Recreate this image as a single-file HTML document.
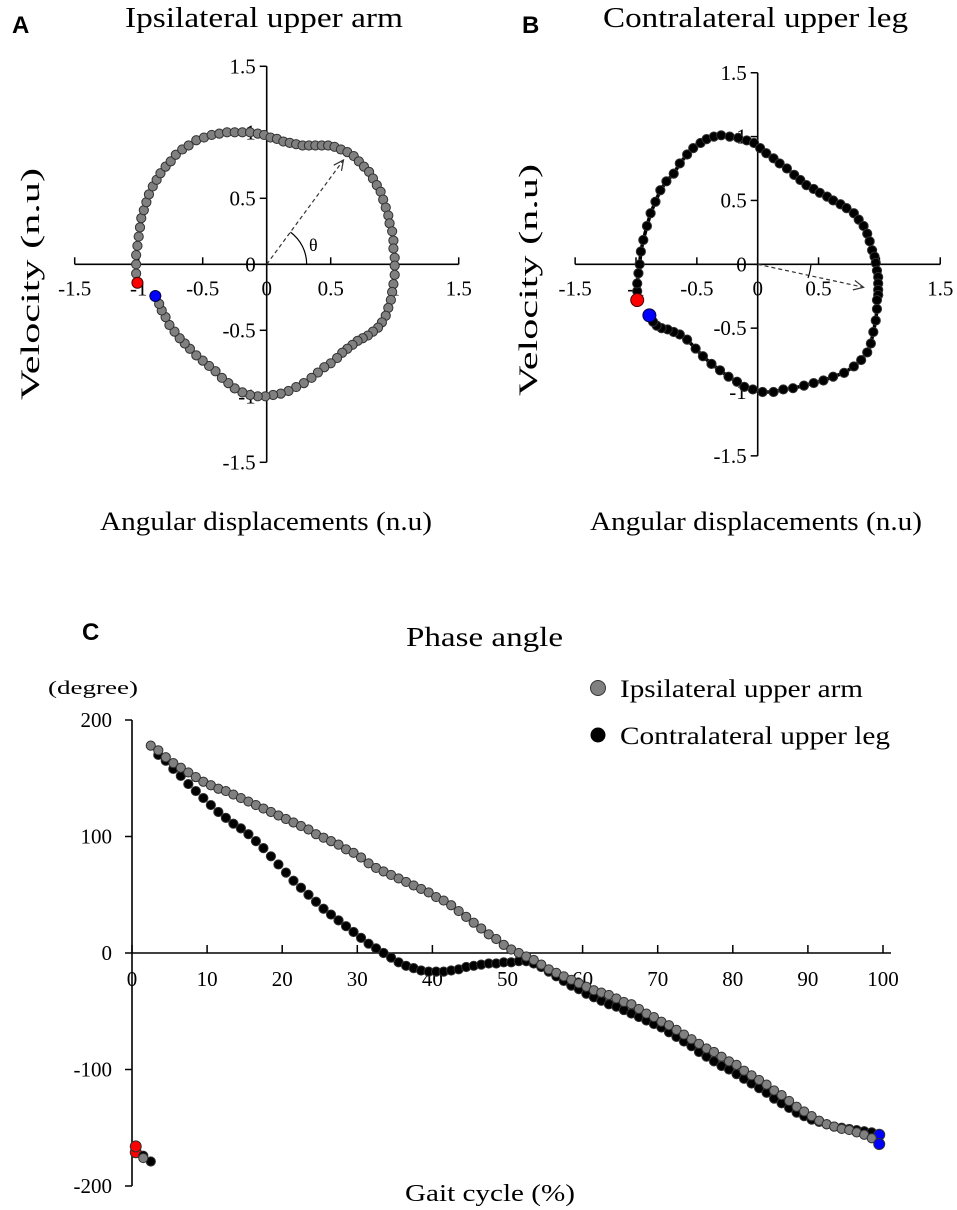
<!DOCTYPE html>
<html><head><meta charset="utf-8"><style>
body{margin:0;background:#fff}
svg{display:block}
text{font-family:"Liberation Serif",serif;fill:#000}
.lab{font-family:"Liberation Sans",sans-serif;font-weight:bold}
</style></head><body>
<svg id="fig" width="957" height="1210" viewBox="0 0 957 1210" xmlns="http://www.w3.org/2000/svg">
<text class="lab" x="12" y="33" font-size="24">A</text>
<text class="lab" x="522" y="33" font-size="24">B</text>
<text class="lab" x="82" y="640" font-size="24">C</text>
<text x="125" y="27" font-size="28" textLength="278" lengthAdjust="spacingAndGlyphs">Ipsilateral  upper arm</text>
<text x="603" y="27" font-size="28" textLength="305" lengthAdjust="spacingAndGlyphs">Contralateral  upper leg</text>
<text x="100" y="530" font-size="26" textLength="332" lengthAdjust="spacingAndGlyphs">Angular  displacements (n.u)</text>
<text x="590" y="530" font-size="26" textLength="332" lengthAdjust="spacingAndGlyphs">Angular  displacements (n.u)</text>
<text transform="translate(39,400) rotate(-90)" font-size="26" textLength="232" lengthAdjust="spacingAndGlyphs">Velocity (n.u)</text>
<text transform="translate(537,396) rotate(-90)" font-size="26" textLength="232" lengthAdjust="spacingAndGlyphs">Velocity (n.u)</text>
<text x="406" y="646" font-size="27" textLength="157" lengthAdjust="spacingAndGlyphs">Phase angle</text>
<text x="48" y="694" font-size="19" textLength="90" lengthAdjust="spacingAndGlyphs">(degree)</text>
<text x="405" y="1201" font-size="24" textLength="170" lengthAdjust="spacingAndGlyphs">Gait cycle (%)</text>
<g>
<circle cx="598" cy="688" r="7.5" fill="#808080" stroke="#333"/>
<text x="620" y="697" font-size="25" textLength="243" lengthAdjust="spacingAndGlyphs">Ipsilateral  upper arm</text>
<circle cx="598" cy="735" r="7.5" fill="#000"/>
<text x="620" y="744" font-size="25" textLength="270" lengthAdjust="spacingAndGlyphs">Contralateral  upper leg</text>
</g>
<g id="pa"></g>
<g id="pb"></g>
<g id="pc"></g>
</svg>
<script>
const aX=[-1.01,-1.02,-1.02,-1.02,-1.01,-1.0,-0.99,-0.98,-0.96,-0.94,-0.92,-0.89,-0.86,-0.83,-0.79,-0.75,-0.71,-0.66,-0.61,-0.55,-0.49,-0.43,-0.37,-0.31,-0.25,-0.19,-0.13,-0.07,-0.02,0.03,0.08,0.13,0.18,0.23,0.28,0.33,0.38,0.43,0.48,0.53,0.58,0.63,0.68,0.72,0.76,0.80,0.83,0.86,0.89,0.91,0.93,0.95,0.96,0.98,0.99,0.99,1.0,1.0,1.0,0.99,0.98,0.97,0.95,0.93,0.90,0.87,0.83,0.79,0.75,0.71,0.67,0.63,0.59,0.55,0.50,0.45,0.40,0.35,0.29,0.23,0.17,0.11,0.05,-0.01,-0.07,-0.13,-0.19,-0.25,-0.30,-0.35,-0.40,-0.45,-0.50,-0.55,-0.60,-0.64,-0.68,-0.72,-0.76,-0.79,-0.82,-0.84,-0.87];
const aY=[-0.14,-0.07,0.0,0.07,0.14,0.21,0.28,0.35,0.41,0.47,0.53,0.59,0.64,0.69,0.74,0.78,0.83,0.87,0.90,0.94,0.96,0.98,0.99,1.0,1.0,1.0,1.0,0.99,0.98,0.96,0.95,0.93,0.92,0.91,0.90,0.90,0.90,0.90,0.90,0.89,0.87,0.85,0.82,0.78,0.74,0.70,0.65,0.60,0.55,0.49,0.43,0.37,0.31,0.25,0.18,0.12,0.05,-0.01,-0.08,-0.15,-0.21,-0.27,-0.33,-0.39,-0.44,-0.48,-0.51,-0.54,-0.56,-0.58,-0.61,-0.64,-0.67,-0.71,-0.75,-0.78,-0.82,-0.86,-0.90,-0.93,-0.96,-0.98,-0.99,-1.0,-1.0,-0.99,-0.97,-0.94,-0.90,-0.86,-0.81,-0.77,-0.73,-0.69,-0.64,-0.60,-0.56,-0.51,-0.46,-0.40,-0.35,-0.30,-0.24];
const bX=[-0.99,-0.99,-0.99,-0.98,-0.97,-0.96,-0.94,-0.91,-0.88,-0.84,-0.80,-0.75,-0.69,-0.64,-0.58,-0.53,-0.47,-0.42,-0.36,-0.30,-0.23,-0.16,-0.09,-0.03,0.02,0.07,0.13,0.18,0.24,0.30,0.35,0.40,0.46,0.51,0.57,0.62,0.68,0.73,0.79,0.83,0.87,0.90,0.92,0.94,0.96,0.97,0.98,0.99,0.99,0.99,0.99,0.98,0.98,0.97,0.95,0.93,0.90,0.85,0.79,0.71,0.62,0.54,0.46,0.38,0.29,0.21,0.13,0.04,-0.04,-0.11,-0.17,-0.24,-0.31,-0.38,-0.45,-0.51,-0.58,-0.64,-0.69,-0.74,-0.79,-0.83,-0.86,-0.89];
const bY=[-0.28,-0.21,-0.15,-0.07,0.0,0.10,0.19,0.30,0.40,0.49,0.58,0.65,0.71,0.79,0.86,0.91,0.95,0.98,1.0,1.01,1.0,0.99,0.97,0.95,0.91,0.87,0.83,0.79,0.75,0.70,0.66,0.62,0.59,0.56,0.53,0.50,0.47,0.44,0.40,0.35,0.30,0.24,0.18,0.11,0.06,0.01,-0.05,-0.10,-0.15,-0.20,-0.24,-0.28,-0.35,-0.44,-0.53,-0.62,-0.69,-0.75,-0.80,-0.85,-0.88,-0.91,-0.93,-0.95,-0.97,-0.98,-1.0,-1.0,-0.98,-0.96,-0.92,-0.88,-0.83,-0.78,-0.72,-0.66,-0.59,-0.55,-0.53,-0.51,-0.50,-0.48,-0.45,-0.40];
const ticksAB=[-1.5,-1,-0.5,0,0.5,1,1.5];
const tickLabelsAB=["-1.5","-1","-0.5","0","0.5","1","1.5"];
const pctC=[0,1,2,3,4,5,6,7,8,9,10,11,12,13,14,15,16,17,18,19,20,21,22,23,24,25,26,27,28,29,30,31,32,33,34,35,36,37,38,39,40,41,42,43,44,45,46,47,48,49,50,51,52,53,54,55,56,57,58,59,60,61,62,63,64,65,66,67,68,69,70,71,72,73,74,75,76,77,78,79,80,81,82,83,84,85,86,87,88,89,90,91,92,93,94,95,96,97,98,99];
const ipsiC=[-166,-176,178,174,168,163,159,155,151,147,144,141,139,136,133,130,127,124,121,118,115,112,109,106,102,99,96,93,89,86,82,77,73,70,67,64,61,58,55,52,48,45,41,36,31,26,21,16,12,7,3,0,-3,-6,-10,-14,-17,-20,-23,-26,-29,-32,-34,-36,-39,-42,-44,-48,-52,-55,-59,-62,-66,-70,-74,-78,-82,-85,-89,-93,-96,-101,-105,-109,-113,-118,-122,-127,-132,-136,-140,-144,-147,-149,-151,-152,-154,-156,-159,-164];
const contraC=[-171,-174,-179,170,165,158,152,145,139,133,127,121,116,111,107,102,96,90,83,76,69,62,56,50,44,38,33,28,23,18,13,8,4,0,-4,-8,-11,-13,-15,-16,-16,-16,-15,-14,-12,-11,-10,-9,-9,-8,-8,-7,-7,-9,-12,-16,-20,-24,-28,-31,-35,-38,-41,-44,-46,-49,-52,-55,-58,-61,-64,-68,-72,-76,-80,-85,-89,-93,-97,-100,-104,-108,-112,-116,-120,-125,-129,-133,-137,-140,-143,-145,-147,-149,-150,-151,-152,-153,-154,-156];
const ticksCX=[0,10,20,30,40,50,60,70,80,90,100];
const ticksCY=[200,100,0,-100,-200];

const NS="http://www.w3.org/2000/svg";
function mk(parent,tag,attrs){const e=document.createElementNS(NS,tag);for(const k in attrs)e.setAttribute(k,attrs[k]);parent.appendChild(e);return e;}

function phasePanel(g,ox,oy,ux,uy,X,Y,fill,line,arrow,prefix){
  const sx=v=>ox+v*ux, sy=v=>oy-v*uy;
  let e=mk(g,'line',{x1:sx(-1.5),y1:oy,x2:sx(1.5),y2:oy,stroke:'#000','stroke-width':1.6});
  
  
  e=mk(g,'line',{x1:ox,y1:sy(1.5),x2:ox,y2:sy(-1.5),stroke:'#000','stroke-width':1.6});
  
  
  ticksAB.forEach((t,i)=>{
    let l=mk(g,'line',{x1:sx(t),y1:oy,x2:sx(t),y2:oy-7,stroke:'#000','stroke-width':1.5});
    
    
    l=mk(g,'line',{x1:ox,y1:sy(t),x2:ox-7,y2:sy(t),stroke:'#000','stroke-width':1.5});
    
    
    let tx=mk(g,'text',{x:sx(t),y:oy+31,'font-size':21,'text-anchor':'middle'});tx.textContent=tickLabelsAB[i];
    
    
    tx=mk(g,'text',{x:ox-11,y:sy(t)+7,'font-size':21,'text-anchor':'end'});tx.textContent=tickLabelsAB[i];
    
    
  });
  if(line){
    const p=mk(g,'polyline',{points:X.map((x,i)=>sx(x)+','+sy(Y[i])).join(' '),fill:'none',stroke:'#000','stroke-width':3.5});
    
    
  }
  X.forEach((x,i)=>{
    if(i===0||i===X.length-1)return;
    const c=mk(g,'circle',{cx:sx(x),cy:sy(Y[i]),r:4.6,fill:fill,stroke:'#303030','stroke-width':1});
    
    
  });
  const r=line?6.5:5.5;
  let c=mk(g,'circle',{cx:sx(X[0]),cy:sy(Y[0]),r:r,fill:'#f00',stroke:'#400','stroke-width':1});
  
  
  c=mk(g,'circle',{cx:sx(X[X.length-1]),cy:sy(Y[Y.length-1]),r:r,fill:'#00f',stroke:'#004','stroke-width':1});
  
  
  const ax=sx(arrow[0]),ay=sy(arrow[1]);
  let a=mk(g,'line',{x1:ox,y1:oy,x2:ax,y2:ay,stroke:'#333','stroke-width':1.2,'stroke-dasharray':'4,3'});
  
  
  const ang=Math.atan2(ay-oy,ax-ox);
  const hl=11,hw=0.45;
  a=mk(g,'polyline',{points:(ax-hl*Math.cos(ang-hw))+','+(ay-hl*Math.sin(ang-hw))+' '+ax+','+ay+' '+(ax-hl*Math.cos(ang+hw))+','+(ay-hl*Math.sin(ang+hw)),fill:'none',stroke:'#333','stroke-width':1.2});
  
  
  return {sx,sy,ang};
}
const A=phasePanel(document.getElementById('pa'),266.7,264.3,128,132,aX,aY,'#808080',false,[0.6,0.79],'a');
(function(){const g=document.getElementById('pa');const R=40;
 const e=mk(g,'path',{d:`M ${266.7+R} 264.3 A ${R} ${R} 0 0 0 ${266.7+R*Math.cos(A.ang)} ${264.3+R*Math.sin(A.ang)}`,fill:'none',stroke:'#000','stroke-width':1.2});
 
 
 const t=mk(g,'text',{x:309,y:251,'font-size':18});t.textContent='θ';
 
 })();
const B=phasePanel(document.getElementById('pb'),757.7,264.3,121.7,127.7,bX,bY,'#000',true,[0.87,-0.18],'b');
(function(){const g=document.getElementById('pb');
 const e=mk(g,'path',{d:'M 811 264 A 53 53 0 0 1 808 278',fill:'none',stroke:'#000','stroke-width':1.2});
 
 })();

(function(){
 const g=document.getElementById('pc');
 const x0=132,x1=883,y0=953,u=233/200;
 const sx=v=>x0+v*(x1-x0)/100, sy=v=>y0-v*u;
 let e=mk(g,'line',{x1:x0,y1:sy(200),x2:x0,y2:sy(-200),stroke:'#000','stroke-width':1.6});
 
 
 e=mk(g,'line',{x1:x0,y1:y0,x2:sx(100)+8,y2:y0,stroke:'#000','stroke-width':1.6});
 
 
 ticksCX.forEach(t=>{
  let l=mk(g,'line',{x1:sx(t),y1:y0,x2:sx(t),y2:y0-8,stroke:'#000','stroke-width':1.5});
  
  
  const tx=mk(g,'text',{x:sx(t),y:y0+33,'font-size':21,'text-anchor':'middle'});tx.textContent=t;
  
  
 });
 ticksCY.forEach(t=>{
  let l=mk(g,'line',{x1:x0,y1:sy(t),x2:x0-7,y2:sy(t),stroke:'#000','stroke-width':1.5});
  
  
  const tx=mk(g,'text',{x:x0-20,y:sy(t)+7,'font-size':21,'text-anchor':'end'});tx.textContent=t;
  
  
 });
 function series(vals,fill,name){
  vals.forEach((v,i)=>{
   let f=fill,r=4.6;
   if(i===0){f='#f00';r=5.5;} else if(i===vals.length-1){f='#00f';r=5.5;}
   const c=mk(g,'circle',{cx:sx(pctC[i]+0.5),cy:sy(v),r:r,fill:f,stroke:'#303030','stroke-width':1});
   
   
  });
 }
 series(contraC,'#000','contralateral');
 series(ipsiC,'#808080','ipsilateral');
})();
</script>
</body></html>
